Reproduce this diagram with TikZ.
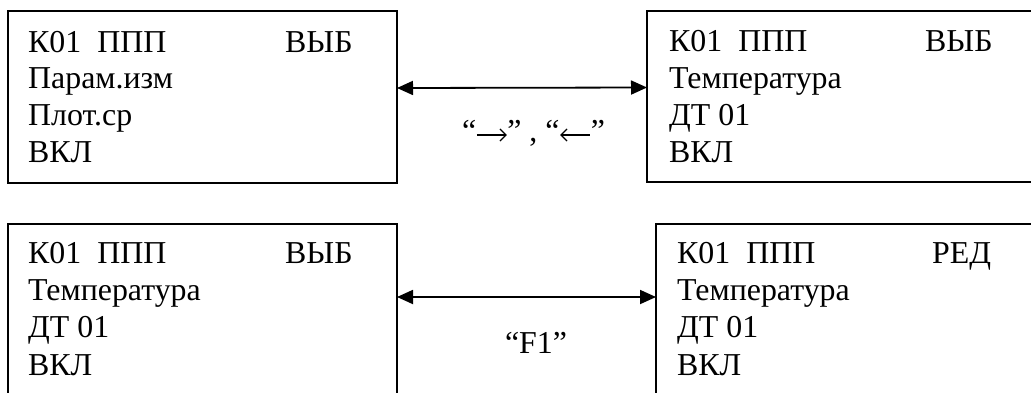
\documentclass[tikz,border=0pt]{standalone}
\usepackage{fontspec}
\setmainfont{Liberation Serif}
\usetikzlibrary{arrows.meta}
\newcommand{\glyphR}{\tikz[baseline=0pt,x=1bp,y=1bp]\draw[line width=1.2bp,-{Straight Barb[length=6bp,width=12bp,line width=1.2bp]}] (0,6) -- (30,6);}
\newcommand{\glyphL}{\tikz[baseline=0pt,x=1bp,y=1bp]\draw[line width=1.2bp,{Straight Barb[length=6bp,width=12bp,line width=1.2bp]}-] (0,6) -- (30,6);}
\begin{document}
\begin{tikzpicture}[x=1bp,y=-1bp,
  screen/.style={draw, line width=1.6bp, anchor=north west, inner sep=0pt, outer sep=0pt,
    minimum width=389bp, minimum height=172bp},
  txt/.style={anchor=base west, inner sep=0pt, font=\fontsize{32}{38}\selectfont},
  lbl/.style={anchor=base, inner sep=0pt, font=\fontsize{32}{38}\selectfont},
  link/.style={line width=1.8bp, {Triangle[length=16bp,width=14bp]}-{Triangle[length=16bp,width=14bp]}}]
\path[use as bounding box, clip] (0,0) rectangle (1031,392);
\fill[white] (0,0) rectangle (1031,392);
% boxes
\node[screen] (tl) at (8,11) {};
\node[screen, minimum height=171bp] (tr) at (647,11) {};
\node[screen] (bl) at (8,224) {};
\node[screen] (br) at (656,224) {};
% top-left text
\node[txt] (tl1) at (28,52) {К01\ \ ППП};
\node[txt] (tl1r) at (285,52) {ВЫБ};
\node[txt] (tl2) at (28,88) {Парам.изм};
\node[txt] (tl3) at (28,125) {Плот.ср};
\node[txt] (tl4) at (28,162) {ВКЛ};
% top-right text
\node[txt] (tr1) at (669,51) {К01\ \ ППП};
\node[txt] (tr1r) at (925,51) {ВЫБ};
\node[txt] (tr2) at (669,88) {Температура};
\node[txt] (tr3) at (669,125) {ДТ 01};
\node[txt] (tr4) at (669,162) {ВКЛ};
% bottom-left text
\node[txt] (bl1) at (28,263) {К01\ \ ППП};
\node[txt] (bl1r) at (285,263) {ВЫБ};
\node[txt] (bl2) at (28,300) {Температура};
\node[txt] (bl3) at (28,337) {ДТ 01};
\node[txt] (bl4) at (28,375) {ВКЛ};
% bottom-right text
\node[txt] (br1) at (677,263) {К01\ \ ППП};
\node[txt] (br1r) at (932,263) {РЕД};
\node[txt] (br2) at (677,300) {Температура};
\node[txt] (br3) at (677,337) {ДТ 01};
\node[txt] (br4) at (677,375) {ВКЛ};
% connectors
\draw[link] ([yshift=9bp]tl.east) -- ([yshift=9bp]tr.west);
\draw[link] ([yshift=13bp]bl.east) -- ([yshift=13bp]br.west);
% labels
\node[lbl] (lab1) at (533.5,141) {“\glyphR” , “\glyphL”};
\node[lbl] (lab2) at (536,353) {“F1”};
\end{tikzpicture}
\end{document}
